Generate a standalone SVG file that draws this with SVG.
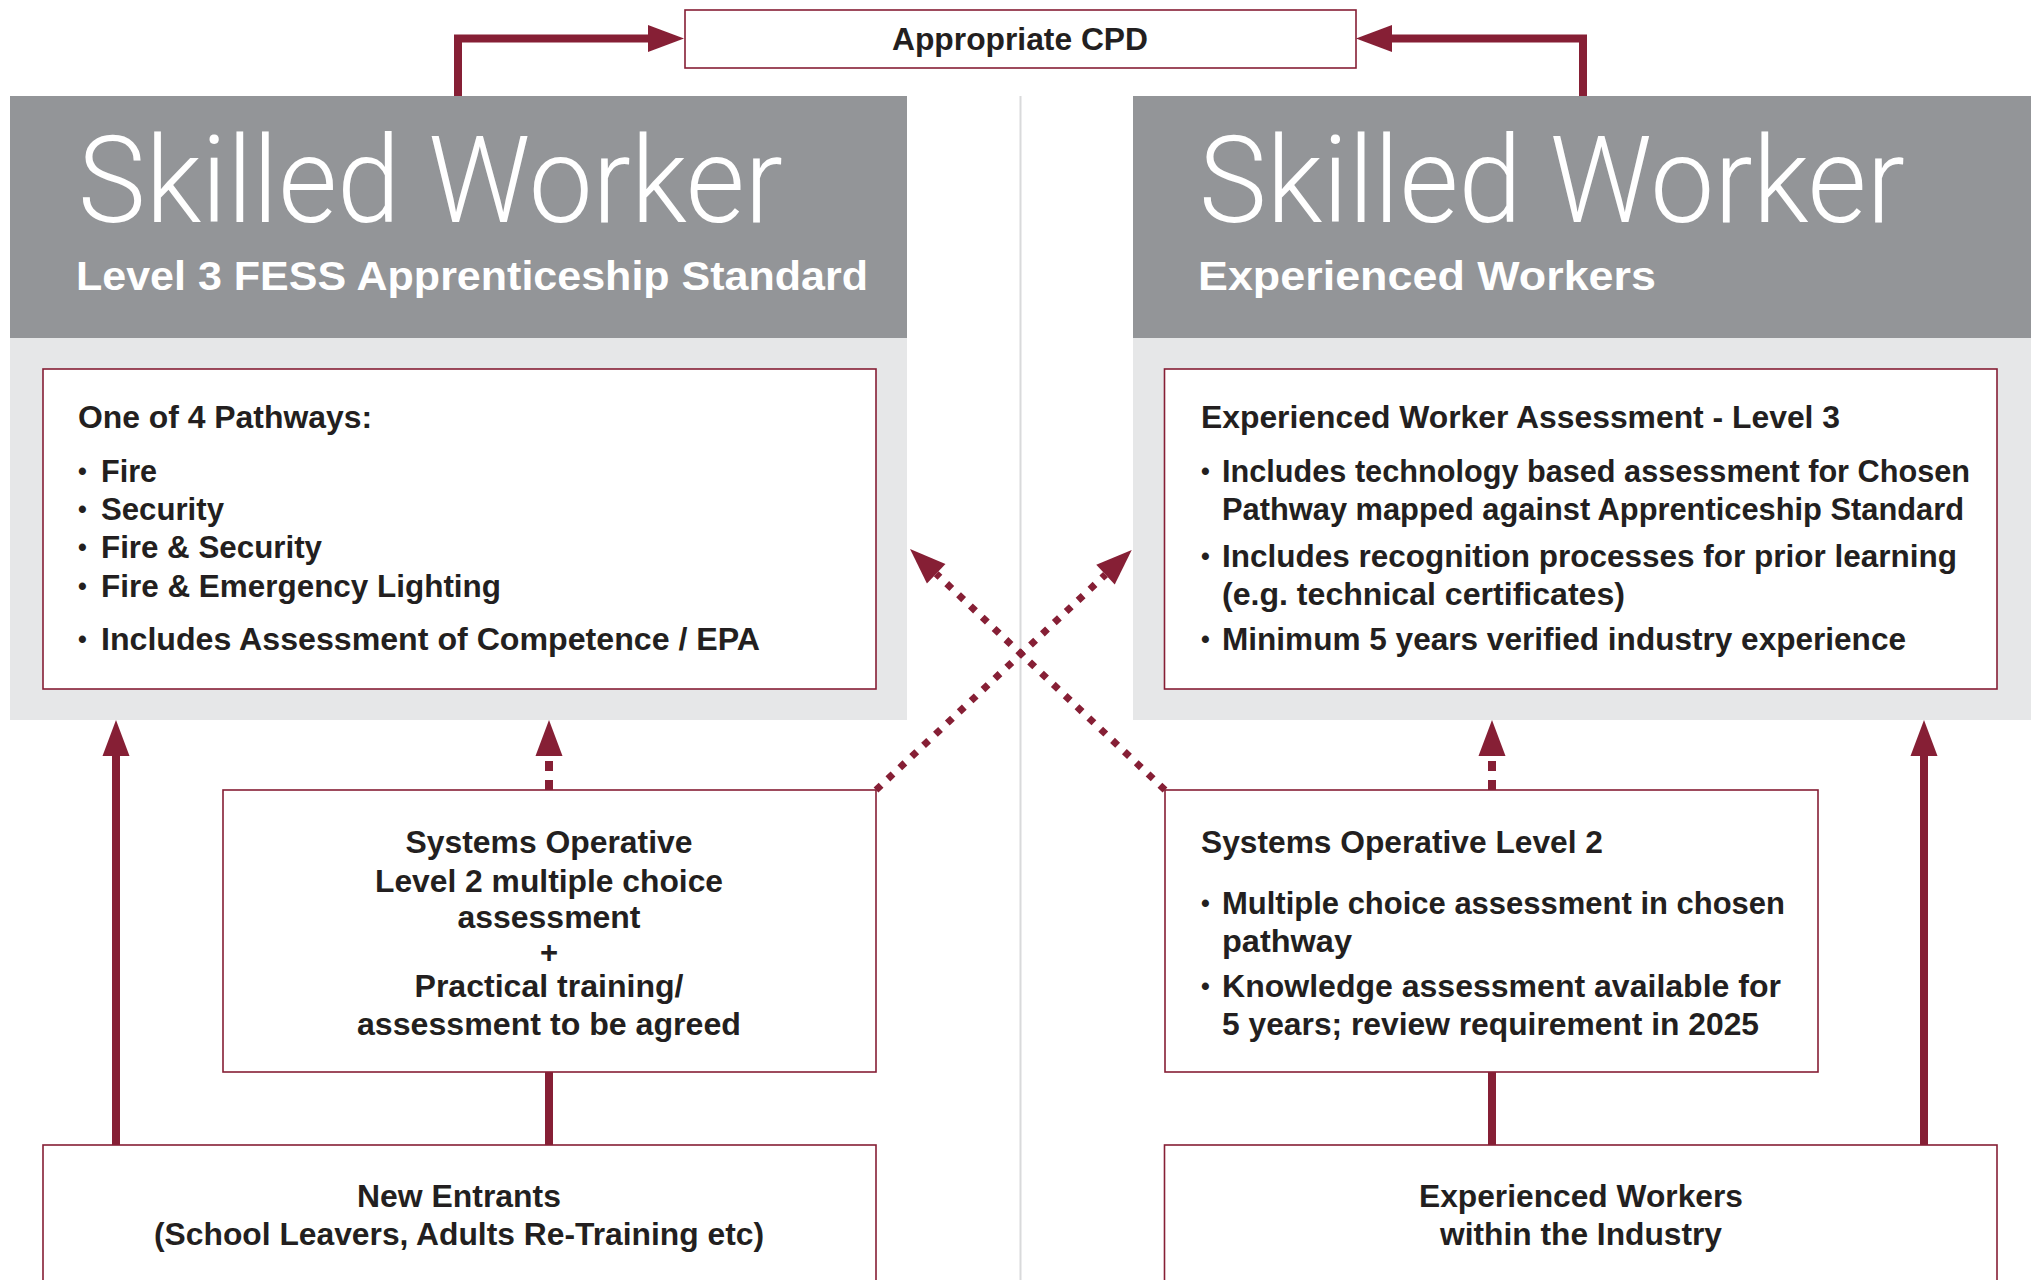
<svg xmlns="http://www.w3.org/2000/svg" width="2031" height="1280" viewBox="0 0 2031 1280">
<defs>
<style>
.hdr{fill:#939598}
.pnl{fill:#e6e7e8}
.box{fill:#ffffff;stroke:#861f35;stroke-width:1.6}
.t{font-family:'Liberation Sans',Arial,'Noto Sans',sans-serif;font-weight:700;font-size:31px;fill:#231f20}
.b{font-size:25px}
.c{text-anchor:middle}
.big{font-family:'Roboto Light',Roboto,Inter,'Liberation Sans',sans-serif;font-weight:300;font-size:120px;fill:#ffffff}
.sub{font-family:'Liberation Sans',Arial,sans-serif;font-weight:700;font-size:41px;fill:#ffffff}
.ln{fill:none;stroke:#861f35;stroke-width:8}
.dash{fill:none;stroke:#861f35;stroke-width:8;stroke-dasharray:10 9}
.dot{fill:none;stroke:#861f35;stroke-width:7;stroke-dasharray:7 9.3}
</style>
<marker id="ah" markerUnits="userSpaceOnUse" markerWidth="36" markerHeight="27" refX="0" refY="13.5" orient="auto" overflow="visible">
<path d="M0,0 L36,13.5 L0,27 z" fill="#861f35"/>
</marker>
</defs>
<rect x="0" y="0" width="2031" height="1280" fill="#ffffff"/>
<line x1="1020.5" y1="96" x2="1020.5" y2="1280" stroke="#d9dadb" stroke-width="2"/>

<g id="cpd">
<rect class="box" x="685" y="10" width="671" height="58"/>
<text class="t c" x="1020" y="50" textLength="256" lengthAdjust="spacingAndGlyphs">Appropriate CPD</text>
</g>

<g id="left-skilled-worker">
<rect class="hdr" x="10" y="96" width="897" height="242"/>
<rect class="pnl" x="10" y="338" width="897" height="382"/>
<text class="big" x="78" y="222" textLength="705" lengthAdjust="spacingAndGlyphs">Skilled Worker</text>
<text class="sub" x="76" y="290" textLength="792" lengthAdjust="spacingAndGlyphs">Level 3 FESS Apprenticeship Standard</text>
</g>

<g id="left-pathways">
<rect class="box" x="43" y="369" width="833" height="320"/>
<text class="t" x="78" y="428" textLength="294" lengthAdjust="spacingAndGlyphs">One of 4 Pathways:</text>
<text class="t b" x="78" y="480">•</text>
<text class="t" x="101" y="482" textLength="56" lengthAdjust="spacingAndGlyphs">Fire</text>
<text class="t b" x="78" y="518">•</text>
<text class="t" x="101" y="520" textLength="123" lengthAdjust="spacingAndGlyphs">Security</text>
<text class="t b" x="78" y="556">•</text>
<text class="t" x="101" y="558" textLength="221" lengthAdjust="spacingAndGlyphs">Fire &amp; Security</text>
<text class="t b" x="78" y="595">•</text>
<text class="t" x="101" y="597" textLength="400" lengthAdjust="spacingAndGlyphs">Fire &amp; Emergency Lighting</text>
<text class="t b" x="78" y="648">•</text>
<text class="t" x="101" y="650" textLength="659" lengthAdjust="spacingAndGlyphs">Includes Assessment of Competence / EPA</text>
</g>

<g id="right-skilled-worker">
<rect class="hdr" x="1133" y="96" width="898" height="242"/>
<rect class="pnl" x="1133" y="338" width="898" height="382"/>
<text class="big" x="1199" y="222" textLength="706" lengthAdjust="spacingAndGlyphs">Skilled Worker</text>
<text class="sub" x="1198" y="290" textLength="458" lengthAdjust="spacingAndGlyphs">Experienced Workers</text>
</g>

<g id="right-assessment">
<rect class="box" x="1164.5" y="369" width="832.5" height="320"/>
<text class="t" x="1201" y="428" textLength="639" lengthAdjust="spacingAndGlyphs">Experienced Worker Assessment - Level 3</text>
<text class="t b" x="1201" y="480">•</text>
<text class="t" x="1222" y="482" textLength="748" lengthAdjust="spacingAndGlyphs">Includes technology based assessment for Chosen</text>
<text class="t" x="1222" y="520" textLength="742" lengthAdjust="spacingAndGlyphs">Pathway mapped against Apprenticeship Standard</text>
<text class="t b" x="1201" y="565">•</text>
<text class="t" x="1222" y="567" textLength="735" lengthAdjust="spacingAndGlyphs">Includes recognition processes for prior learning</text>
<text class="t" x="1222" y="605" textLength="403" lengthAdjust="spacingAndGlyphs">(e.g. technical certificates)</text>
<text class="t b" x="1201" y="648">•</text>
<text class="t" x="1222" y="650" textLength="684" lengthAdjust="spacingAndGlyphs">Minimum 5 years verified industry experience</text>
</g>

<g id="left-systems-operative">
<rect class="box" x="223" y="790" width="653" height="282"/>
<text class="t c" x="549" y="853" textLength="287" lengthAdjust="spacingAndGlyphs">Systems Operative</text>
<text class="t c" x="549" y="892" textLength="348" lengthAdjust="spacingAndGlyphs">Level 2 multiple choice</text>
<text class="t c" x="549" y="928" textLength="183" lengthAdjust="spacingAndGlyphs">assessment</text>
<text class="t c" x="549" y="963">+</text>
<text class="t c" x="549" y="997" textLength="269" lengthAdjust="spacingAndGlyphs">Practical training/</text>
<text class="t c" x="549" y="1035" textLength="384" lengthAdjust="spacingAndGlyphs">assessment to be agreed</text>
</g>

<g id="right-systems-operative">
<rect class="box" x="1165" y="790" width="653" height="282"/>
<text class="t" x="1201" y="853" textLength="402" lengthAdjust="spacingAndGlyphs">Systems Operative Level 2</text>
<text class="t b" x="1201" y="912">•</text>
<text class="t" x="1222" y="914" textLength="563" lengthAdjust="spacingAndGlyphs">Multiple choice assessment in chosen</text>
<text class="t" x="1222" y="952" textLength="130" lengthAdjust="spacingAndGlyphs">pathway</text>
<text class="t b" x="1201" y="995">•</text>
<text class="t" x="1222" y="997" textLength="559" lengthAdjust="spacingAndGlyphs">Knowledge assessment available for</text>
<text class="t" x="1222" y="1035" textLength="537" lengthAdjust="spacingAndGlyphs">5 years; review requirement in 2025</text>
</g>

<g id="new-entrants">
<rect class="box" x="43" y="1145" width="833" height="160"/>
<text class="t c" x="459" y="1207" textLength="204" lengthAdjust="spacingAndGlyphs">New Entrants</text>
<text class="t c" x="459" y="1245" textLength="610" lengthAdjust="spacingAndGlyphs">(School Leavers, Adults Re-Training etc)</text>
</g>

<g id="experienced-workers">
<rect class="box" x="1164.5" y="1145" width="832.5" height="160"/>
<text class="t c" x="1581" y="1207" textLength="324" lengthAdjust="spacingAndGlyphs">Experienced Workers</text>
<text class="t c" x="1581" y="1245" textLength="282" lengthAdjust="spacingAndGlyphs">within the Industry</text>
</g>

<g id="connectors">
<path class="ln" d="M458,96 V38.5 H648" marker-end="url(#ah)"/>
<path class="ln" d="M1583,96 V38.5 H1392" marker-end="url(#ah)"/>
<path class="ln" d="M116,1145 V756" marker-end="url(#ah)"/>
<path class="ln" d="M1924,1145 V756" marker-end="url(#ah)"/>
<path class="dash" d="M549,790 V756" marker-end="url(#ah)"/>
<path class="dash" d="M1492,790 V756" marker-end="url(#ah)"/>
<path class="ln" d="M549,1072 V1145"/>
<path class="ln" d="M1492,1072 V1145"/>
<path class="dot" d="M876,790 L1105.5,574.6" marker-end="url(#ah)"/>
<path class="dot" d="M1165,790 L936.2,573.7" marker-end="url(#ah)"/>
</g>
</svg>
